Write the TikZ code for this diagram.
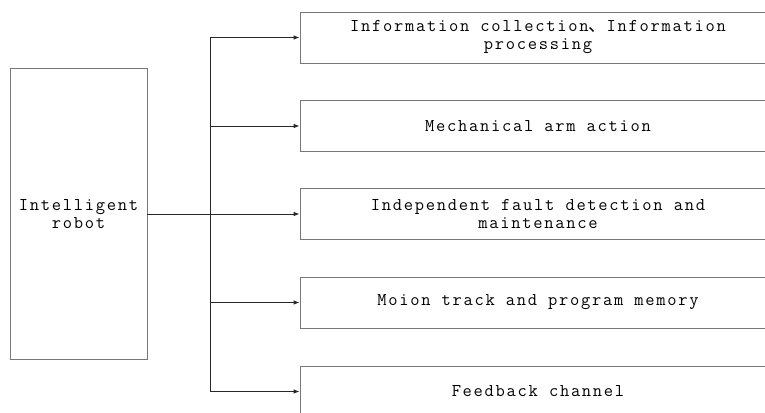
\documentclass[tikz,border=0pt]{standalone}
\usepackage{fontspec}
\setmonofont[LetterSpace=9.6]{Latin Modern Mono}
\newfontfamily\cjk{Noto Sans CJK SC}
\usetikzlibrary{arrows.meta}
\definecolor{boxgray}{RGB}{120,120,120}
\definecolor{linegray}{RGB}{40,40,40}

\begin{document}
\begin{tikzpicture}[x=1pt,y=-1pt,
    box/.style={draw=boxgray, line width=0.8pt, inner sep=0pt, align=center,
      minimum width=476pt, minimum height=51pt,
      font=\ttfamily\fontsize{18}{18}\selectfont},
    conn/.style={draw=linegray, line width=0.8pt, -{Latex[length=6pt,width=4.5pt]}}]
    \useasboundingbox (0,0) rectangle (765,412);
    \clip (0,0) rectangle (765,412);
    %left box
    \node[box, minimum width=137pt, minimum height=291pt] (robot) at (78.5,214) {Intelligent\\robot};
    %right boxes
    \node[box] (info) at (538,37.5) {Information collection{\cjk 、}Information\\processing};
    \node[box] (arm) at (538,126) {Mechanical arm action};
    \node[box] (fault) at (538,214) {Independent fault detection and\\maintenance};
    \node[box] (track) at (538,302.5) {Moion track and program memory};
    \node[box] (feedback) at (538,391.5) {Feedback channel};
    %connectors
    \coordinate (split) at (210,214);
    \draw[conn] (robot.east) -- (fault.west);
    \draw[draw=linegray, line width=0.8pt] (info.west -| split) -- (feedback.west -| split);
    \foreach \n in {info,arm,track,feedback}
      \draw[conn] (\n.west -| split) -- (\n.west);
\end{tikzpicture}
\end{document}
